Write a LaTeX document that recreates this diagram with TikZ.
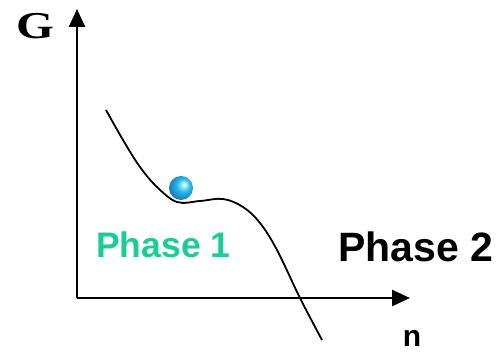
\documentclass[tikz,border=0pt]{standalone}
\usepackage{fontspec}
\setmainfont{Liberation Serif}
\setsansfont{Liberation Sans}
\usetikzlibrary{arrows.meta}
\definecolor{phasegreen}{RGB}{28,204,150}
\definecolor{ballhi}{RGB}{170,240,255}
\definecolor{ballmid}{RGB}{40,185,230}
\definecolor{balledge}{RGB}{20,115,175}
\pgfdeclareradialshading{glassball}{\pgfpoint{7bp}{8bp}}{color(0bp)=(white); color(4bp)=(ballhi); color(14bp)=(ballmid); color(30bp)=(balledge); color(50bp)=(balledge)}
\begin{document}
\begin{tikzpicture}[x=1pt,y=-1pt,
  axis/.style={line width=2.6pt,-{Triangle[length=18pt,width=16pt]}},
  curve/.style={line width=1.8pt},
  lbl/.style={inner sep=0pt,font=\sffamily\bfseries}]
\useasboundingbox (0,0) rectangle (500,352);
\coordinate (o) at (77,298);
\coordinate (ytip) at (77,9);
\coordinate (xtip) at (410,298);
\draw[axis] (o) -- (ytip);
\draw[axis] (o) -- (xtip);
\draw[curve] plot[smooth,tension=0.6] coordinates {(106,110) (123,140) (140,167) (157,187) (177,202) (200,201) (223,199) (243,207) (260,223) (277,250) (300,298) (322,340)};
\shade[shading=glassball] (181,188) circle (12);
\node[inner sep=0pt,font=\fontsize{38}{38}\selectfont\bfseries,xscale=1.28] (G) at (35.5,26) {G};
\node[lbl,text=phasegreen,font=\sffamily\bfseries\fontsize{35.5}{35.5}\selectfont,anchor=west] (p1) at (96,244.5) {Phase 1};
\node[lbl,font=\sffamily\bfseries\fontsize{41}{41}\selectfont,anchor=west] (p2) at (338,247) {Phase 2};
\node[lbl,font=\sffamily\bfseries\fontsize{30}{30}\selectfont] (n) at (412,338) {n};
\end{tikzpicture}
\end{document}
